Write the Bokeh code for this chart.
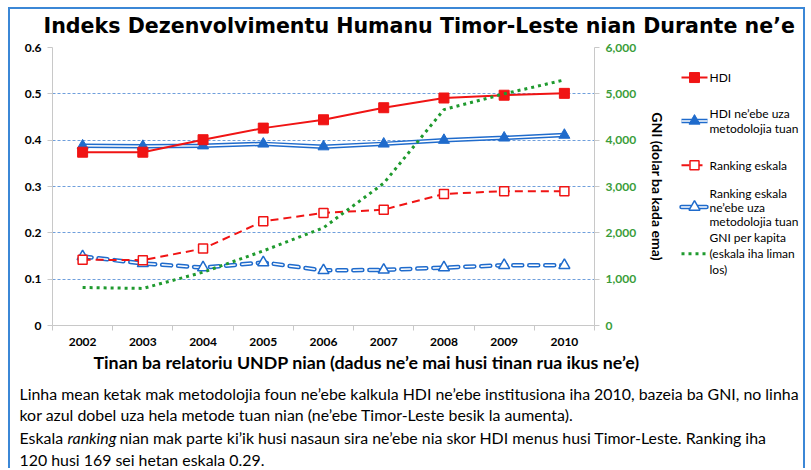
from bokeh.plotting import figure
from bokeh.layouts import column, row
from bokeh.models import (Range1d, LinearAxis, FixedTicker, NumeralTickFormatter, Title)
from bokeh.core.properties import value
from bokeh.embed import file_html
from bokeh.resources import INLINE

# ---------------- data ----------------
years = ["2002", "2003", "2004", "2005", "2006", "2007", "2008", "2009", "2010"]
hdi = [0.374, 0.374, 0.401, 0.426, 0.444, 0.470, 0.491, 0.497, 0.501]
hdi_new = [0.388, 0.387, 0.388, 0.392, 0.386, 0.392, 0.400, 0.405, 0.411]
rank = [0.142, 0.141, 0.166, 0.225, 0.243, 0.250, 0.284, 0.290, 0.290]
rank_new = [0.149, 0.134, 0.125, 0.136, 0.119, 0.120, 0.125, 0.130, 0.130]
gni = [820, 800, 1150, 1610, 2110, 3070, 4660, 5000, 5300]
left_ticks = [0, 0.1, 0.2, 0.3, 0.4, 0.5, 0.6]
right_ticks = [0, 1000, 2000, 3000, 4000, 5000, 6000]

title_text = "Indeks Dezenvolvimentu Humanu Timor-Leste nian Durante ne’e"
xlabel_text = "Tinan ba relatoriu UNDP nian (dadus ne’e mai husi tinan rua ikus ne’e)"
ylabel_right = "GNI (dolar ba kada ema)"
legend_labels = [["HDI"],
                 ["HDI ne’ebe uza", "metodolojia tuan"],
                 ["Ranking eskala"],
                 ["Ranking eskala", "ne’ebe uza", "metodolojia tuan"],
                 ["GNI per kapita", "(eskala iha liman", "los)"]]
note1 = "Linha mean ketak mak metodolojia foun ne’ebe kalkula HDI ne’ebe institusiona iha 2010, bazeia ba GNI, no linha"
note2 = "kor azul dobel uza hela metode tuan nian (ne’ebe Timor-Leste besik la aumenta)."
note3a = "Eskala"
note3b = "ranking"
note3c = "nian mak parte ki’ik husi nasaun sira ne’ebe nia skor HDI menus husi Timor-Leste. Ranking iha"
note4 = "120 husi 169 sei hetan eskala 0.29."

# ---------------- styles ----------------
RED = "#f01414"
BLUE = "#1f6bcc"
GREEN = "#1f9a2e"
GRID = "#6f9fdc"
AXIS = "#c8c8c8"
FONT = "Lato"
W = 793
MAIN_W = 664
MAIN_H = 333


def blank(width, height, xr, yr):
    f = figure(width=width, height=height, output_backend="svg", toolbar_location=None,
               x_range=Range1d(*xr), y_range=Range1d(*yr),
               x_axis_location=None, y_axis_location=None,
               min_border=0, min_border_left=0, min_border_right=0,
               min_border_top=0, min_border_bottom=0)
    f.outline_line_color = None
    f.xgrid.visible = False
    f.ygrid.visible = False
    f.background_fill_color = "white"
    f.border_fill_color = "white"
    return f


# ---------------- title ----------------
tf = blank(W, 30, (0, W), (30, 0))
tf.text(x=[33], y=[16], text=[title_text], text_font=value("DejaVu Sans"),
        text_font_style="bold", text_font_size="20.6px", text_baseline="middle",
        text_color="black")

# ---------------- main plot ----------------
xs = [i + 0.5 for i in range(len(years))]
bounds = list(range(len(years) + 1))

p = figure(width=MAIN_W, height=MAIN_H, output_backend="svg", toolbar_location=None,
           x_range=Range1d(0, len(years)), y_range=Range1d(left_ticks[0], left_ticks[-1]),
           min_border_left=42, min_border_right=80, min_border_top=8, min_border_bottom=46)
p.outline_line_color = None
p.background_fill_color = "white"
p.border_fill_color = "white"
p.xgrid.grid_line_color = None
p.ygrid.ticker = FixedTicker(ticks=left_ticks[1:])
p.ygrid.grid_line_color = GRID
p.ygrid.grid_line_dash = "3 2"
p.ygrid.grid_line_width = 1

xa = p.xaxis[0]
xa.ticker = FixedTicker(ticks=xs, minor_ticks=bounds)
xa.major_label_overrides = {x: y for x, y in zip(xs, years)}
xa.major_tick_line_color = None
xa.minor_tick_line_color = AXIS
xa.minor_tick_out = 5
xa.minor_tick_in = 0
xa.axis_line_color = AXIS
xa.major_label_text_font = FONT
xa.major_label_text_font_style = "bold"
xa.major_label_text_font_size = "12px"
xa.major_label_text_color = "black"
xa.major_label_standoff = 6

ya = p.yaxis[0]
ya.ticker = FixedTicker(ticks=left_ticks)
ya.major_label_overrides = {0: "0"}
ya.minor_tick_line_color = None
ya.major_tick_line_color = AXIS
ya.major_tick_out = 5
ya.major_tick_in = 0
ya.axis_line_color = AXIS
ya.major_label_text_font = FONT
ya.major_label_text_font_style = "bold"
ya.major_label_text_font_size = "12px"
ya.major_label_text_color = "black"
ya.major_label_standoff = 6

p.extra_y_ranges = {"gni": Range1d(right_ticks[0], right_ticks[-1])}
ra = LinearAxis(y_range_name="gni", ticker=FixedTicker(ticks=right_ticks),
                formatter=NumeralTickFormatter(format="0,0"), axis_label=ylabel_right)
ra.minor_tick_line_color = None
ra.major_tick_line_color = AXIS
ra.major_tick_out = 5
ra.major_tick_in = 0
ra.axis_line_color = AXIS
ra.major_label_text_font = FONT
ra.major_label_text_font_style = "bold"
ra.major_label_text_font_size = "12px"
ra.major_label_text_color = "#3a9d3a"
ra.major_label_standoff = 6
ra.axis_label_text_font = FONT
ra.axis_label_text_font_style = "bold"
ra.axis_label_text_font_size = "14px"
ra.axis_label_text_color = "black"
ra.axis_label_standoff = 10
p.add_layout(ra, "right")

p.add_layout(Title(text=xlabel_text, align="left", offset=41, standoff=0,
                   text_font=FONT, text_font_style="bold", text_font_size="17.8px",
                   text_color="black"), "below")

# series (HDI new first so that the red line sits on top, as in the original)
p.line(xs, hdi_new, line_color=BLUE, line_width=4.5)
p.line(xs, hdi_new, line_color="white", line_width=1.5)
p.scatter(xs, hdi_new, marker="triangle", size=11, fill_color=BLUE, line_color=BLUE)

p.line(xs, hdi, line_color=RED, line_width=2)
p.scatter(xs, hdi, marker="square", size=10, fill_color=RED, line_color=RED)

p.line(xs, rank_new, line_color=BLUE, line_width=4.5, line_dash="9 7", line_cap="round")
p.line(xs, rank_new, line_color="white", line_width=1.5, line_dash="9 7", line_cap="round")
p.scatter(xs, rank_new, marker="triangle", size=11, fill_color="white",
          line_color=BLUE, line_width=1.5)

p.line(xs, rank, line_color=RED, line_width=2, line_dash="8 5")
p.scatter(xs, rank, marker="square", size=9, fill_color="white", line_color=RED, line_width=1.5)

p.line(xs, gni, y_range_name="gni", line_color=GREEN, line_width=3, line_dash="3 4")

# ---------------- legend panel (right of the chart) ----------------
LW = W - MAIN_W
lf = blank(LW, MAIN_H, (0, LW), (MAIN_H, 0))
gx0, gx1, gxm, tx = 7, 33, 20, 35
gy = [36, 88, 141, 191, 247]                       # key-symbol rows
line_ys = [[36], [79, 97], [141], [175, 192, 209], [227, 247, 266]]

# HDI
lf.line([gx0, gx1], [gy[0]] * 2, line_color=RED, line_width=2)
lf.scatter([gxm], [gy[0]], marker="square", size=10, fill_color=RED, line_color=RED)
# HDI new methodology
lf.line([gx0, gx1], [gy[1]] * 2, line_color=BLUE, line_width=4.5)
lf.line([gx0, gx1], [gy[1]] * 2, line_color="white", line_width=1.5)
lf.scatter([gxm], [gy[1]], marker="triangle", size=11, fill_color=BLUE, line_color=BLUE)
# Ranking
lf.line([gx0, gx1], [gy[2]] * 2, line_color=RED, line_width=2, line_dash="8 5")
lf.scatter([gxm], [gy[2]], marker="square", size=9, fill_color="white", line_color=RED,
           line_width=1.5)
# Ranking new methodology
lf.line([gx0, gx1], [gy[3]] * 2, line_color=BLUE, line_width=4.5, line_dash="9 7",
        line_cap="round")
lf.line([gx0, gx1], [gy[3]] * 2, line_color="white", line_width=1.5, line_dash="9 7",
        line_cap="round")
lf.scatter([gxm], [gy[3]], marker="triangle", size=11, fill_color="white", line_color=BLUE,
           line_width=1.5)
# GNI
lf.line([gx0, gx1], [gy[4]] * 2, line_color=GREEN, line_width=3, line_dash="3 4")

lt, ly = [], []
for labs, ys_ in zip(legend_labels, line_ys):
    lt += labs
    ly += ys_
lf.text(x=[tx] * len(lt), y=ly, text=lt, text_font=value(FONT), text_font_size="12px",
        text_baseline="middle", text_color="black")

# ---------------- notes ----------------
nf = blank(W, 96, (0, W), (96, 0))
note_x = [9, 9, 9, 57, 109, 9]
note_y = [21, 42, 65, 65, 65, 87]
note_t = [note1, note2, note3a, note3b, note3c, note4]
note_s = ["normal", "normal", "normal", "italic", "normal", "normal"]
nf.text(x=note_x, y=note_y, text=note_t, text_font_style=note_s, text_font=value(FONT),
        text_font_size="15.9px", text_baseline="middle", text_color="black")

layout = column(tf, row(p, lf), nf,
                styles={"border": "2px solid #3b87d6", "border-bottom": "none",
                        "margin-left": "8px", "margin-top": "7px"})
open("out.html", "w").write(file_html(layout, INLINE))
